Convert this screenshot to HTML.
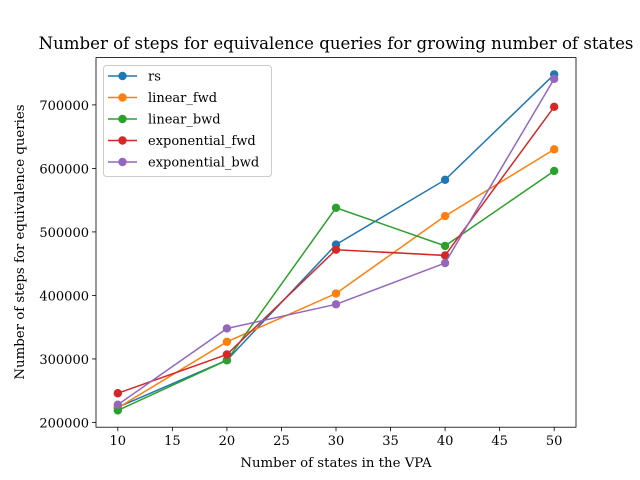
<!DOCTYPE html>
<html><head><meta charset="utf-8"><style>
body{margin:0;background:#fff}
svg{display:block;font-family:"DejaVu Serif","Liberation Serif",serif}
</style></head><body>
<svg id="c" width="640" height="480" viewBox="0 0 640 480">
<rect width="640" height="480" fill="#fff"/>
<text x="336" y="49" font-size="16.6" text-anchor="middle">Number of steps for equivalence queries for growing number of states</text>
<g id="plot"></g>
<text x="336" y="467" font-size="13.3" text-anchor="middle">Number of states in the VPA</text>
<text transform="translate(24,242) rotate(-90)" font-size="13.3" text-anchor="middle">Number of steps for equivalence queries</text>
</svg>
<script>
const categories=[10,20,30,40,50];
const seriesNames=["rs","linear_fwd","linear_bwd","exponential_fwd","exponential_bwd"];
const rs=[224000,298000,480000,582000,748000];
const linearFwd=[223000,327000,403000,525000,630000];
const linearBwd=[219000,298000,538000,478000,596000];
const expFwd=[246000,307000,472000,463000,697000];
const expBwd=[228000,348000,386000,451000,741000];
const xTicks=[10,15,20,25,30,35,40,45,50];
const yTicks=[200000,300000,400000,500000,600000,700000];
const colors=["#1f77b4","#ff7f0e","#2ca02c","#d62728","#9467bd"];
const series=[rs,linearFwd,linearBwd,expFwd,expBwd];
const L=96,R=576,T=57.6,B=427.2;
const allV=series.flat();const mn=Math.min(...allV),mx=Math.max(...allV);const pad=(mx-mn)*0.05;
const y0=mn-pad,y1=mx+pad;
const x0=Math.min(...categories)-(Math.max(...categories)-Math.min(...categories))*0.05;
const x1=Math.max(...categories)+(Math.max(...categories)-Math.min(...categories))*0.05;
const sx=v=>L+(v-x0)/(x1-x0)*(R-L);
const sy=v=>B-(v-y0)/(y1-y0)*(B-T);
const NS="http://www.w3.org/2000/svg";
const g=document.getElementById('plot');
function el(t,a,p){const e=document.createElementNS(NS,t);for(const k in a)e.setAttribute(k,a[k]);(p||g).appendChild(e);return e;}
xTicks.forEach(t=>{const x=sx(t);
const l=el('line',{x1:x,x2:x,y1:B,y2:B+4,stroke:'#000','stroke-width':0.8});


const tx=el('text',{x:x,y:B+18,'font-size':13,'text-anchor':'middle'});tx.textContent=t;

});
yTicks.forEach(t=>{const y=sy(t);
const l=el('line',{x1:L-4,x2:L,y1:y,y2:y,stroke:'#000','stroke-width':0.8});


const tx=el('text',{x:L-7,y:y+5,'font-size':13,'text-anchor':'end'});tx.textContent=t;

});
series.forEach((s,i)=>{
const pl=el('polyline',{points:s.map((v,j)=>sx(categories[j])+','+sy(v)).join(' '),fill:'none',stroke:colors[i],'stroke-width':1.5});


s.forEach((v,j)=>{const c=el('circle',{cx:sx(categories[j]),cy:sy(v),r:4.2,fill:colors[i]});

});
});
const fr=el('rect',{x:L,y:T,width:R-L,height:B-T,fill:'none',stroke:'#000','stroke-width':0.8});


const lg=el('g',{});


el('rect',{x:103.5,y:65.5,width:168,height:111,rx:3,fill:'#fff','fill-opacity':0.8,stroke:'#ccc'},lg);
seriesNames.forEach((n,i)=>{const y=76+i*21.5;
const e=el('g',{},lg);


el('line',{x1:108,x2:137,y1:y,y2:y,stroke:colors[i],'stroke-width':1.5},e);
el('circle',{cx:122.5,cy:y,r:4.2,fill:colors[i]},e);
const t=el('text',{x:148,y:y+4.5,'font-size':13},e);t.textContent=n;});
</script>
</body></html>
